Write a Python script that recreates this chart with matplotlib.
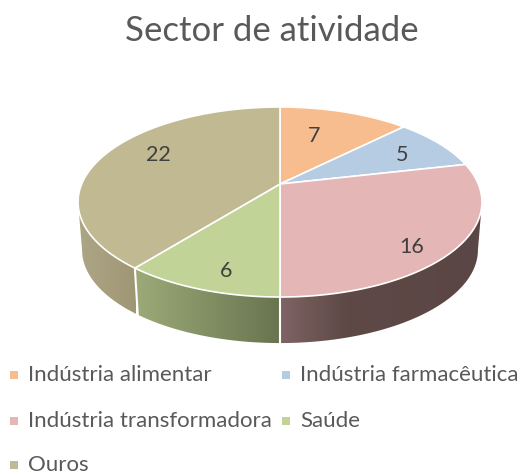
import numpy as np
import matplotlib
matplotlib.use("Agg")
import matplotlib.pyplot as plt
from matplotlib.patches import Polygon, Rectangle

title = "Sector de atividade"
categories = ["Indústria alimentar", "Indústria farmacêutica",
              "Indústria transformadora", "Saúde", "Ouros"]
values = [7, 5, 16, 6, 22]
colors = ["#F8BD8E", "#B6CCE2", "#E5B6B6", "#C2D398", "#C0B992"]

# side gradients, (x, colour) stops
side_stops = {
    2: [(280, "#7F6464"), (345, "#5E4947"), (482, "#5A4644")],
    3: [(136, "#9CAA78"), (280, "#68744F")],
    4: [(78, "#ADA686"), (136, "#9F9674")],
}

# label and legend layout in pixels
label_xy = [(314, 136), (402, 155), (412, 247), (226, 271), (158, 155)]
legend_xy = [(10, 375), (282, 375), (10, 421), (282, 421), (10, 465)]

# pie projection, fitted to the picture
cx, cy = 280, 184
a, b, k = 91.6, 198.3, 0.1895
depth, shrink = 48.3, 0.98


def project(theta, r=1.0):
    X = r * np.sin(theta)
    Y = -r * np.cos(theta)
    d = 1 - k * Y
    return b * X / d, a * Y / d


def hex_rgb(c):
    return np.array(matplotlib.colors.to_rgb(c))


plt.rcParams["font.family"] = ["Lato", "DejaVu Sans"]
fig = plt.figure(figsize=(5.2, 4.74), dpi=100)
ax = fig.add_axes([0, 0, 1, 1])

edges = np.cumsum([0] + values) / sum(values) * 2 * np.pi
# angles where the rim is widest, only the part between them faces the viewer
front_from = np.arccos(-k)
front_to = 2 * np.pi - front_from

# sides first, the top covers whatever is behind
for i, stops in side_stops.items():
    th = np.linspace(max(edges[i], front_from), min(edges[i + 1], front_to), 120)
    u, v = project(th)
    top = np.column_stack([cx + u, cy + v])
    low = np.column_stack([cx + u * shrink, cy + v * shrink + depth])
    poly = Polygon(np.vstack([top, low[::-1]]), closed=True, fc="none", ec="none")
    ax.add_patch(poly)
    xs = np.linspace(stops[0][0], stops[-1][0], 256)
    sx = [s[0] for s in stops]
    rgb = np.array([hex_rgb(s[1]) for s in stops])
    grad = np.column_stack([np.interp(xs, sx, rgb[:, c]) for c in range(3)])
    im = ax.imshow(grad[None, :, :], extent=[xs[0], xs[-1], 360, 150],
                   aspect="auto", interpolation="bilinear", zorder=2)
    im.set_clip_path(poly)
    # white seam at the slice start
    if i in (3, 4):
        ax.plot([top[0, 0], low[0, 0]], [top[0, 1], low[0, 1]],
                color="white", lw=1.5, zorder=3)

for i, val in enumerate(values):
    th = np.linspace(edges[i], edges[i + 1], 200)
    u, v = project(th)
    pts = np.column_stack([cx + u, cy + v])
    pts = np.vstack([[cx, cy], pts])
    ax.add_patch(Polygon(pts, closed=True, fc=colors[i], ec="white",
                         lw=1.2, joinstyle="round", zorder=4))
    ax.text(label_xy[i][0], label_xy[i][1], str(val), fontsize=15.5,
            color="#404040", ha="center", va="center", zorder=5)

ax.text(272, 31, title, fontsize=25, color="#595959",
        ha="center", va="center")

for i, name in enumerate(categories):
    x, y = legend_xy[i]
    ax.add_patch(Rectangle((x, y - 4), 8, 8, fc=colors[i], ec="none"))
    ax.text(x + 18, y, name, fontsize=16, color="#595959",
            ha="left", va="center")

ax.set_xlim(0, 520)
ax.set_ylim(474, 0)
ax.axis("off")
fig.savefig("out.png", dpi=100, facecolor="white")
